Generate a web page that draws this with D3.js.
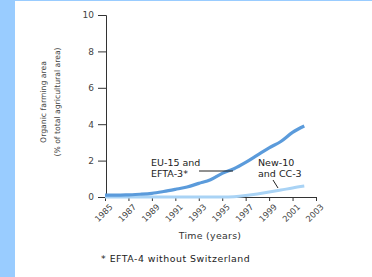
<!DOCTYPE html>
<html>
<head>
<meta charset="utf-8">
<script src="https://cdn.jsdelivr.net/npm/d3@7"></script>
<style>
  body { margin: 0; background: #fff; }
  svg { display: block; }
  svg text { font-family: "DejaVu Sans", Verdana, sans-serif; }
</style>
</head>
<body>
<div id="chart"></div>
<script>
// data
let years = d3.range(1985, 2003);
let eu15 = [0.1, 0.1, 0.12, 0.15, 0.2, 0.3, 0.42, 0.55, 0.75, 0.95, 1.3, 1.55, 1.9, 2.3, 2.7, 3.05, 3.55, 3.9];
let new10 = [0, 0, 0, 0, 0, 0, 0, 0, 0, 0, 0, 0.02, 0.08, 0.17, 0.27, 0.38, 0.5, 0.6];
let yTicks = [0, 2, 4, 6, 8, 10];
let xTicks = [1985, 1987, 1989, 1991, 1993, 1995, 1997, 1999, 2001, 2003];

let width = 372, height = 277;
let margin = ({top: 15, right: 56, bottom: 80, left: 106});

const svg = d3.select("#chart").append("svg")
    .attr("width", width)
    .attr("height", height);

// blue frame
svg.append("rect").attr("x", 0).attr("y", 0).attr("width", 15).attr("height", height).attr("fill", "#99ccff");
svg.append("rect").attr("x", 0).attr("y", 0).attr("width", width).attr("height", 1).attr("fill", "#99ccff");

let x = d3.scaleLinear().domain([1985, 2003]).range([margin.left - 1, width - margin.right]);
let y = d3.scaleLinear().domain([0, 10]).range([height - margin.bottom, margin.top]);

// y axis
let gy = svg.append("g")
    .attr("transform", `translate(${margin.left},0)`)
    .call(d3.axisLeft(y).tickValues(yTicks).tickSize(8).tickPadding(4));
gy.selectAll("text").attr("font-size", 9).attr("fill", "#444");

// x axis
let gx = svg.append("g")
    .attr("transform", `translate(0,${height - margin.bottom})`)
    .call(d3.axisBottom(x).tickValues(xTicks).tickFormat(d3.format("d")).tickSize(4).tickSizeOuter(0));
gx.selectAll("text")
    .attr("font-size", 8.3).attr("fill", "#444")
    .attr("text-anchor", "end")
    .attr("dx", "-2").attr("dy", "6")
    .attr("transform", "rotate(-45)");
svg.selectAll(".domain, .tick line").attr("stroke", "#333");

// lines
let line = d3.line().x((d, i) => x(years[i])).y(d => y(d)).curve(d3.curveMonotoneX);

svg.append("path").datum(new10)
    .attr("fill", "none").attr("stroke", "#a9d3f5").attr("stroke-width", 3)
    .attr("d", line);
svg.append("path").datum(eu15)
    .attr("fill", "none").attr("stroke", "#5b9bdb").attr("stroke-width", 3.2)
    .attr("d", line);

// axis titles
svg.append("text")
    .attr("transform", `translate(46,${y(5) - 4}) rotate(-90)`)
    .attr("text-anchor", "middle").attr("font-size", 7.7).attr("fill", "#444")
    .text("Organic farming area");
svg.append("text")
    .attr("transform", `translate(60,${y(5) - 4}) rotate(-90)`)
    .attr("text-anchor", "middle").attr("font-size", 7.7).attr("fill", "#444")
    .text("(% of total agricultural area)");

svg.append("text")
    .attr("x", 210).attr("y", 239)
    .attr("text-anchor", "middle").attr("font-size", 9.4).attr("fill", "#333")
    .attr("letter-spacing", 0.3)
    .text("Time (years)");

svg.append("text")
    .attr("x", 101).attr("y", 262)
    .attr("font-size", 9.4).attr("fill", "#222")
    .attr("letter-spacing", 0.5)
    .text("* EFTA-4 without Switzerland");

// annotations
svg.append("text").attr("x", 151).attr("y", 166).attr("font-size", 9.5).attr("fill", "#222").text("EU-15 and");
svg.append("text").attr("x", 151).attr("y", 177).attr("font-size", 9.5).attr("fill", "#222").text("EFTA-3*");
svg.append("line").attr("x1", 199).attr("y1", 171).attr("x2", 233).attr("y2", 171).attr("stroke", "#222");

svg.append("text").attr("x", 258).attr("y", 166).attr("font-size", 9.5).attr("fill", "#222").text("New-10");
svg.append("text").attr("x", 258).attr("y", 177).attr("font-size", 9.5).attr("fill", "#222").text("and CC-3");
svg.append("line").attr("x1", 273).attr("y1", 180).attr("x2", 278).attr("y2", 188).attr("stroke", "#222");
</script>
</body>
</html>
